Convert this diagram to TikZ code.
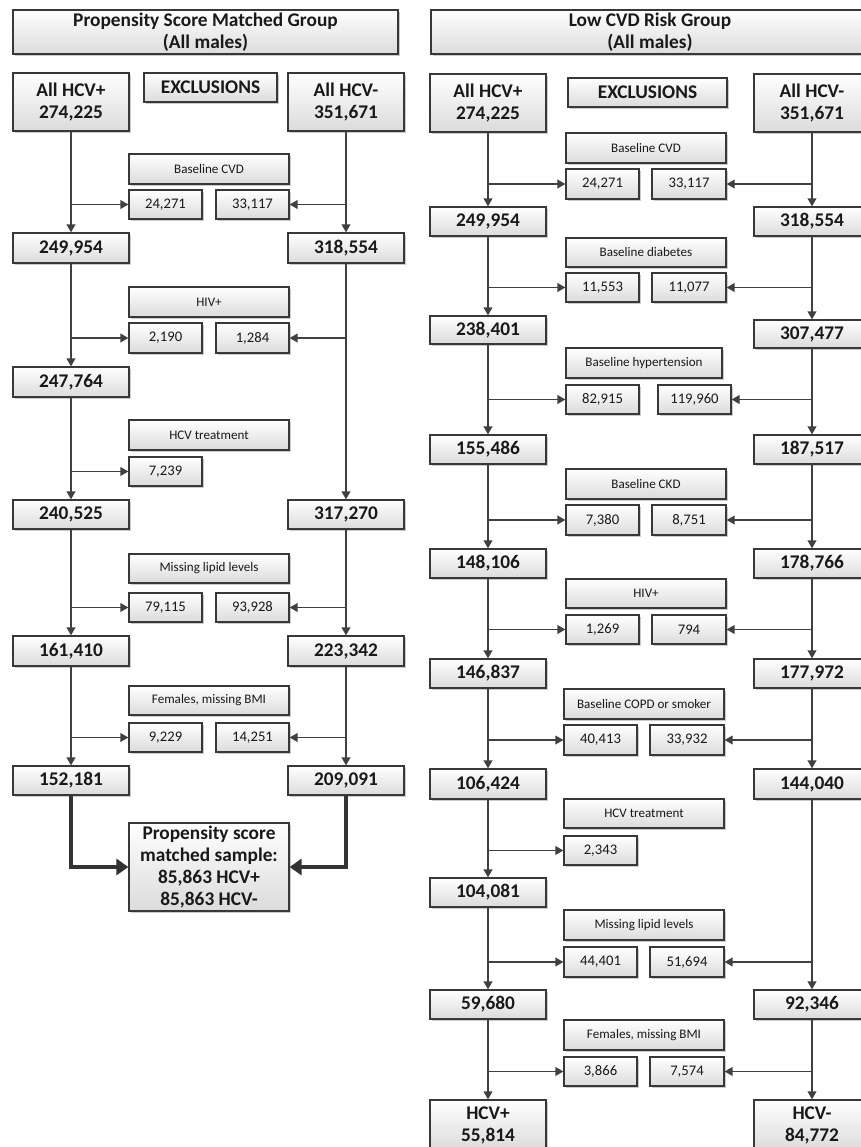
\documentclass[tikz,border=0pt]{standalone}
\usepackage{fontspec}
\setmainfont{Carlito}
\usetikzlibrary{arrows.meta,shadows}
\newcommand\mybox[7]{\node[#2, minimum width={(#5-#3)*0.75pt}, minimum height={(#6-#4)*0.75pt}] (#1) at ({(#3+#5)/2},{(#4+#6)/2}) {#7};}
\begin{document}
\begin{tikzpicture}[x=0.75pt,y=-0.75pt,
  box/.style={draw=black!78, line width=0.9pt, top color=white, bottom color=black!14,
    drop shadow={shadow xshift=1.2pt, shadow yshift=-1.2pt, fill=black!40, opacity=0.5},
    inner sep=0pt, align=center, text=black!90},
  big/.style={box, font=\fontsize{14.5}{16.5}\selectfont\bfseries},
  lab/.style={box, font=\fontsize{9.8}{11}\selectfont},
  num/.style={box, font=\fontsize{11}{13}\selectfont},
  arr/.style={draw=black!75, line width=1.2pt, -{Triangle[length=6pt,width=6.5pt]}},
  thk/.style={draw=black!80, line width=3pt, -{Triangle[length=9pt,width=12pt]}}]
\useasboundingbox (0,0) rectangle (861,1147);
\fill[white] (0,0) rectangle (861,1147);
\clip (0,0) rectangle (861,1147);
% ---------------- Left panel ----------------
\mybox{Lt}{big}{13}{10}{398}{54}{Propensity Score Matched Group\\(All males)}
\mybox{Lp0}{big}{13}{73}{129}{131}{All HCV+\\274,225}
\mybox{Lx}{big}{144}{73}{277}{102}{EXCLUSIONS}
\mybox{Ln0}{big}{288}{73}{404}{131}{All HCV-\\351,671}
\mybox{La1}{lab}{129}{154}{289}{184}{Baseline CVD}
\mybox{Lp1e}{num}{129}{190}{202}{219}{24,271}
\mybox{Ln1e}{num}{216}{190}{289}{219}{33,117}
\mybox{Lp1}{big}{13}{233}{129}{263}{249,954}
\mybox{Ln1}{big}{288}{233}{404}{263}{318,554}
\mybox{La2}{lab}{129}{287}{289}{317}{HIV+}
\mybox{Lp2e}{num}{129}{323}{202}{353}{2,190}
\mybox{Ln2e}{num}{216}{323}{289}{353}{1,284}
\mybox{Lp2}{big}{13}{367}{129}{397}{247,764}
\mybox{La3}{lab}{129}{420}{289}{450}{HCV treatment}
\mybox{Lp3e}{num}{129}{457}{202}{486}{7,239}
\mybox{Lp3}{big}{13}{500}{129}{529}{240,525}
\mybox{Ln3}{big}{288}{500}{404}{529}{317,270}
\mybox{La4}{lab}{129}{554}{289}{583}{Missing lipid levels}
\mybox{Lp4e}{num}{129}{593}{202}{622}{79,115}
\mybox{Ln4e}{num}{216}{593}{289}{622}{93,928}
\mybox{Lp4}{big}{13}{636}{129}{666}{161,410}
\mybox{Ln4}{big}{288}{636}{404}{666}{223,342}
\mybox{La5}{lab}{129}{686}{289}{715}{Females, missing BMI}
\mybox{Lp5e}{num}{129}{723}{202}{752}{9,229}
\mybox{Ln5e}{num}{216}{723}{289}{752}{14,251}
\mybox{Lp5}{big}{13}{766}{129}{795}{152,181}
\mybox{Ln5}{big}{288}{766}{404}{795}{209,091}
\mybox{Lf}{big}{129}{823}{289}{911}{Propensity score\\matched sample:\\85,863 HCV+\\85,863 HCV-}
\draw[arr] (Lp0) -- (Lp1);
\draw[arr] (Lp0.south |- Lp1e.west) -- (Lp1e.west);
\draw[arr] (Ln0) -- (Ln1);
\draw[arr] (Ln0.south |- Ln1e.east) -- (Ln1e.east);
\draw[arr] (Lp1) -- (Lp2);
\draw[arr] (Lp1.south |- Lp2e.west) -- (Lp2e.west);
\draw[arr] (Ln1) -- (Ln3);
\draw[arr] (Ln1.south |- Ln2e.east) -- (Ln2e.east);
\draw[arr] (Lp2) -- (Lp3);
\draw[arr] (Lp2.south |- Lp3e.west) -- (Lp3e.west);
\draw[arr] (Lp3) -- (Lp4);
\draw[arr] (Lp3.south |- Lp4e.west) -- (Lp4e.west);
\draw[arr] (Ln3) -- (Ln4);
\draw[arr] (Ln3.south |- Ln4e.east) -- (Ln4e.east);
\draw[arr] (Lp4) -- (Lp5);
\draw[arr] (Lp4.south |- Lp5e.west) -- (Lp5e.west);
\draw[arr] (Ln4) -- (Ln5);
\draw[arr] (Ln4.south |- Ln5e.east) -- (Ln5e.east);
\draw[thk] (Lp5.south) |- (Lf.west);
\draw[thk] (Ln5.south) |- (Lf.east);
% ---------------- Right panel ----------------
\mybox{Rt}{big}{431}{10}{869}{54}{Low CVD Risk Group\\(All males)}
\mybox{Rp0}{big}{430}{74}{546}{132}{All HCV+\\274,225}
\mybox{Rx}{big}{568}{78}{727}{107}{EXCLUSIONS}
\mybox{Rn0}{big}{754}{74}{870}{132}{All HCV-\\351,671}
\mybox{Ra1}{lab}{566}{133}{726}{163}{Baseline CVD}
\mybox{Rp1e}{num}{566}{169}{639}{199}{24,271}
\mybox{Rn1e}{num}{652}{169}{726}{199}{33,117}
\mybox{Rp1}{big}{430}{207}{546}{236}{249,954}
\mybox{Rn1}{big}{754}{207}{870}{236}{318,554}
\mybox{Ra2}{lab}{566}{238}{726}{267}{Baseline diabetes}
\mybox{Rp2e}{num}{566}{273}{639}{302}{11,553}
\mybox{Rn2e}{num}{652}{273}{726}{302}{11,077}
\mybox{Rp2}{big}{430}{316}{546}{344}{238,401}
\mybox{Rn2}{big}{754}{320}{870}{348}{307,477}
\mybox{Ra3}{lab}{566}{348}{722}{378}{Baseline hypertension}
\mybox{Rp3e}{num}{566}{385}{639}{414}{82,915}
\mybox{Rn3e}{num}{658}{385}{731}{414}{119,960}
\mybox{Rp3}{big}{430}{435}{546}{464}{155,486}
\mybox{Rn3}{big}{754}{435}{870}{464}{187,517}
\mybox{Ra4}{lab}{566}{469}{726}{499}{Baseline CKD}
\mybox{Rp4e}{num}{566}{505}{639}{535}{7,380}
\mybox{Rn4e}{num}{652}{505}{726}{535}{8,751}
\mybox{Rp4}{big}{430}{549}{546}{578}{148,106}
\mybox{Rn4}{big}{754}{549}{870}{578}{178,766}
\mybox{Ra5}{lab}{566}{579}{726}{608}{HIV+}
\mybox{Rp5e}{num}{566}{615}{639}{644}{1,269}
\mybox{Rn5e}{num}{652}{615}{726}{644}{794}
\mybox{Rp5}{big}{430}{659}{546}{688}{146,837}
\mybox{Rn5}{big}{754}{659}{870}{688}{177,972}
\mybox{Ra6}{lab}{564}{689}{724}{719}{Baseline COPD or smoker}
\mybox{Rp6e}{num}{564}{725}{637}{755}{40,413}
\mybox{Rn6e}{num}{650}{725}{724}{755}{33,932}
\mybox{Rp6}{big}{430}{769}{546}{799}{106,424}
\mybox{Rn6}{big}{754}{769}{870}{799}{144,040}
\mybox{Ra7}{lab}{564}{799}{724}{828}{HCV treatment}
\mybox{Rp7e}{num}{564}{836}{637}{865}{2,343}
\mybox{Rp7}{big}{430}{878}{546}{907}{104,081}
\mybox{Ra8}{lab}{564}{910}{724}{940}{Missing lipid levels}
\mybox{Rp8e}{num}{564}{947}{637}{977}{44,401}
\mybox{Rn8e}{num}{650}{947}{724}{977}{51,694}
\mybox{Rp8}{big}{430}{990}{546}{1019}{59,680}
\mybox{Rn8}{big}{754}{990}{870}{1019}{92,346}
\mybox{Ra9}{lab}{564}{1020}{724}{1050}{Females, missing BMI}
\mybox{Rp9e}{num}{564}{1057}{637}{1086}{3,866}
\mybox{Rn9e}{num}{650}{1057}{724}{1086}{7,574}
\mybox{Rp9}{big}{430}{1100}{546}{1150}{HCV+\\55,814}
\mybox{Rn9}{big}{754}{1100}{870}{1150}{HCV-\\84,772}
\draw[arr] (Rp0) -- (Rp1);
\draw[arr] (Rp0.south |- Rp1e.west) -- (Rp1e.west);
\draw[arr] (Rn0) -- (Rn1);
\draw[arr] (Rn0.south |- Rn1e.east) -- (Rn1e.east);
\draw[arr] (Rp1) -- (Rp2);
\draw[arr] (Rp1.south |- Rp2e.west) -- (Rp2e.west);
\draw[arr] (Rn1) -- (Rn2);
\draw[arr] (Rn1.south |- Rn2e.east) -- (Rn2e.east);
\draw[arr] (Rp2) -- (Rp3);
\draw[arr] (Rp2.south |- Rp3e.west) -- (Rp3e.west);
\draw[arr] (Rn2) -- (Rn3);
\draw[arr] (Rn2.south |- Rn3e.east) -- (Rn3e.east);
\draw[arr] (Rp3) -- (Rp4);
\draw[arr] (Rp3.south |- Rp4e.west) -- (Rp4e.west);
\draw[arr] (Rn3) -- (Rn4);
\draw[arr] (Rn3.south |- Rn4e.east) -- (Rn4e.east);
\draw[arr] (Rp4) -- (Rp5);
\draw[arr] (Rp4.south |- Rp5e.west) -- (Rp5e.west);
\draw[arr] (Rn4) -- (Rn5);
\draw[arr] (Rn4.south |- Rn5e.east) -- (Rn5e.east);
\draw[arr] (Rp5) -- (Rp6);
\draw[arr] (Rp5.south |- Rp6e.west) -- (Rp6e.west);
\draw[arr] (Rn5) -- (Rn6);
\draw[arr] (Rn5.south |- Rn6e.east) -- (Rn6e.east);
\draw[arr] (Rp6) -- (Rp7);
\draw[arr] (Rp6.south |- Rp7e.west) -- (Rp7e.west);
\draw[arr] (Rp7) -- (Rp8);
\draw[arr] (Rp7.south |- Rp8e.west) -- (Rp8e.west);
\draw[arr] (Rn6) -- (Rn8);
\draw[arr] (Rn6.south |- Rn8e.east) -- (Rn8e.east);
\draw[arr] (Rp8) -- (Rp9);
\draw[arr] (Rp8.south |- Rp9e.west) -- (Rp9e.west);
\draw[arr] (Rn8) -- (Rn9);
\draw[arr] (Rn8.south |- Rn9e.east) -- (Rn9e.east);
\end{tikzpicture}
\end{document}
